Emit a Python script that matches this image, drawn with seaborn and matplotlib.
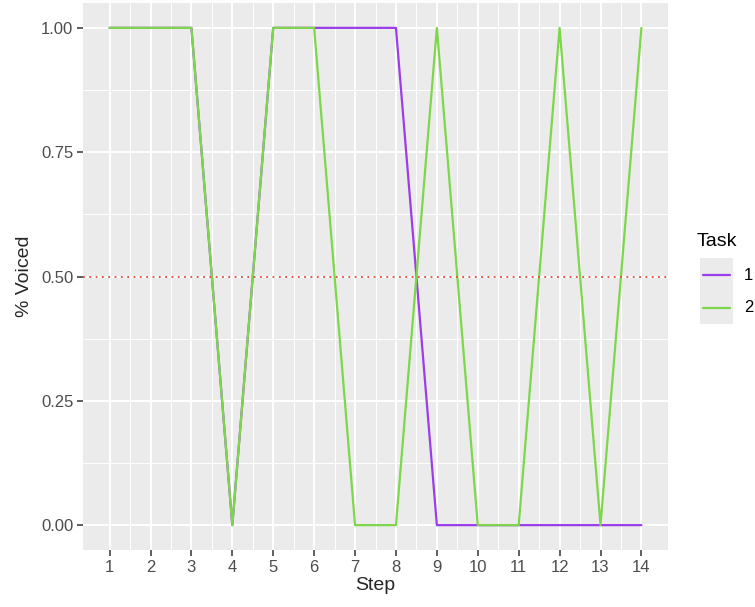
import numpy as np
import pandas as pd
import matplotlib
matplotlib.use("Agg")
import matplotlib.pyplot as plt
import seaborn as sns
from matplotlib.lines import Line2D
from matplotlib.patches import Rectangle

steps = list(range(1, 15))
task1 = [1, 1, 1, 0, 1, 1, 1, 1, 0, 0, 0, 0, 0, 0]
task2 = [1, 1, 1, 0, 1, 1, 0, 0, 1, 0, 0, 1, 0, 1]
tasks = ["1", "2"]
colors = {"1": "#9B3DE8", "2": "#7ED64B"}
yticks = [0.0, 0.25, 0.5, 0.75, 1.0]
ytick_labels = ["0.00", "0.25", "0.50", "0.75", "1.00"]

df = pd.DataFrame({
    "Step": steps * 2,
    "Voiced": task1 + task2,
    "Task": ["1"] * len(steps) + ["2"] * len(steps),
})

sns.set_style("darkgrid", {"axes.facecolor": "#EBEBEB", "grid.color": "white"})
plt.rcParams['font.family'] = ['Liberation Sans', 'DejaVu Sans']

W, H = 755, 607
fig = plt.figure(figsize=(W / 100, H / 100), dpi=100)
ax = fig.add_axes([83 / W, 1 - 550 / H, (668 - 83) / W, (550 - 3) / H])

sns.lineplot(data=df, x="Step", y="Voiced", hue="Task", palette=colors,
             hue_order=tasks, ax=ax, linewidth=1.6, legend=False)
ax.axhline(0.5, color="#E8453C", linestyle=(0, (1, 2.5)), linewidth=1.3)

ax.set_xlim(0.35, 14.65)
ax.set_ylim(-0.05, 1.05)
ax.set_xticks(steps)
ax.set_xticks([s + 0.5 for s in steps[:-1]], minor=True)
ax.set_yticks(yticks)
ax.set_yticklabels(ytick_labels)
ax.set_yticks([0.125, 0.375, 0.625, 0.875], minor=True)
ax.grid(which="major", color="white", linewidth=1.4)
ax.grid(which="minor", color="white", linewidth=0.7)
for s in ax.spines.values():
    s.set_visible(False)
ax.tick_params(axis="both", which="major", bottom=True, left=True, length=4,
               width=1.1, color="#333333", labelsize=12, labelcolor="#4D4D4D", pad=3)
ax.tick_params(axis="both", which="minor", length=0)
ax.set_xlabel("Step", fontsize=14, labelpad=2)
ax.set_ylabel("% Voiced", fontsize=14, labelpad=6)

# Legend (drawn in figure pixel coordinates)
def fx(px):
    return px / W

def fy(py):
    return 1 - py / H

fig.text(fx(697), fy(241), "Task", fontsize=14, va="center", ha="left", color="black")
for i, t in enumerate(tasks):
    yc = 275 + i * 33
    fig.add_artist(Rectangle((fx(700), fy(yc + 16)), fx(733) - fx(700), (33) / H,
                             transform=fig.transFigure, facecolor="#EBEBEB",
                             edgecolor="none"))
    fig.add_artist(Line2D([fx(703), fx(730)], [fy(yc), fy(yc)],
                          transform=fig.transFigure, color=colors[t], linewidth=1.6))
    fig.text(fx(744), fy(yc), t, fontsize=12, va="center", ha="left", color="black")

fig.savefig("out.png", dpi=100)
